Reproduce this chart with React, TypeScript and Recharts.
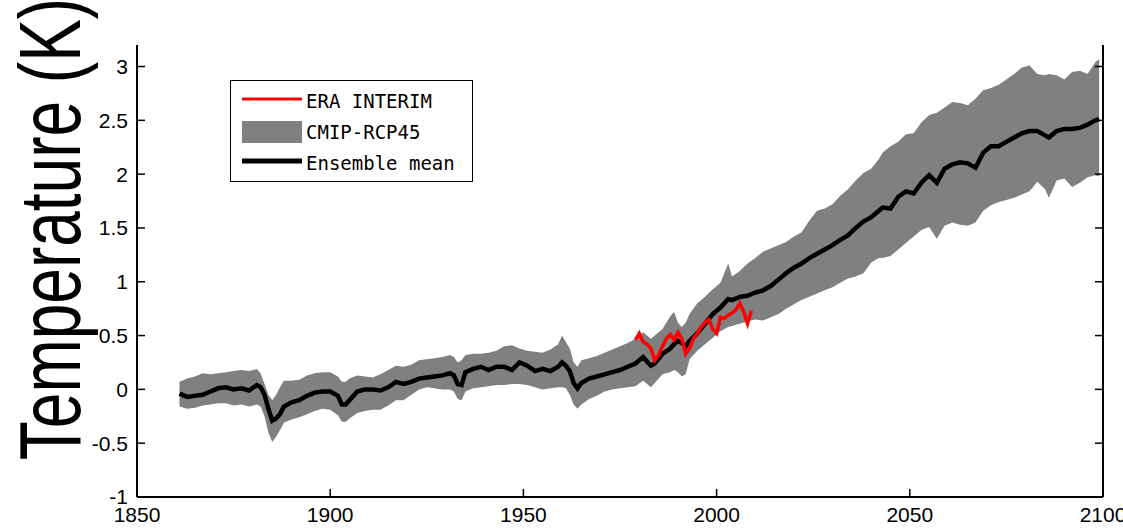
import React from 'react';
import {
  ComposedChart,
  Area,
  Line,
  XAxis,
  YAxis,
} from 'recharts';

// model years and ensemble statistics (K anomaly)
const years = [
  1861, 1863, 1865, 1867, 1869, 1871, 1873, 1875, 1877, 1879, 1881, 1882, 1883, 1884, 1885, 1886, 1887, 1888,
  1890, 1892, 1894, 1896, 1898, 1900, 1902, 1903, 1904, 1905, 1907, 1909, 1911, 1913, 1915, 1917, 1919, 1921,
  1923, 1925, 1927, 1929, 1931, 1932, 1933, 1934, 1935, 1937, 1939, 1941, 1943, 1945, 1947, 1949, 1951, 1953,
  1955, 1957, 1959, 1960, 1961, 1962, 1963, 1964, 1965, 1967, 1969, 1971, 1973, 1975, 1977, 1979, 1981, 1982,
  1983, 1984, 1986, 1988, 1989, 1990, 1991, 1992, 1993, 1995, 1997, 1999, 2001, 2003, 2004, 2006, 2008, 2010,
  2012, 2014, 2016, 2018, 2020, 2022, 2024, 2026, 2028, 2030, 2032, 2034, 2036, 2038, 2040, 2042, 2043, 2045,
  2047, 2049, 2051, 2053, 2055, 2057, 2059, 2061, 2063, 2065, 2067, 2069, 2071, 2073, 2075, 2077, 2079, 2081,
  2083, 2085, 2086, 2088, 2090, 2092, 2094, 2096, 2098, 2099,
];

const ensembleMean = [
  -0.04, -0.07, -0.06, -0.05, -0.02, 0.01, 0.02, 0.0, 0.01, -0.01, 0.04, 0.02, -0.05, -0.18, -0.29, -0.27, -0.23, -0.16,
  -0.12, -0.1, -0.06, -0.03, -0.02, -0.02, -0.06, -0.14, -0.14, -0.1, -0.02, 0.0, 0.0, -0.01, 0.02, 0.07, 0.05, 0.07,
  0.1, 0.11, 0.12, 0.13, 0.15, 0.13, 0.05, 0.04, 0.16, 0.19, 0.21, 0.18, 0.21, 0.21, 0.18, 0.25, 0.22, 0.17,
  0.19, 0.17, 0.21, 0.25, 0.22, 0.17, 0.06, 0.01, 0.06, 0.1, 0.12, 0.14, 0.16, 0.18, 0.21, 0.24, 0.3, 0.26,
  0.22, 0.24, 0.33, 0.38, 0.42, 0.45, 0.43, 0.4, 0.45, 0.52, 0.61, 0.7, 0.76, 0.84, 0.83, 0.86, 0.87, 0.9,
  0.92, 0.96, 1.02, 1.08, 1.13, 1.17, 1.22, 1.26, 1.3, 1.34, 1.39, 1.43, 1.5, 1.56, 1.6, 1.66, 1.69, 1.68,
  1.79, 1.84, 1.82, 1.92, 1.99, 1.92, 2.05, 2.09, 2.11, 2.1, 2.06, 2.2, 2.26, 2.26, 2.3, 2.34, 2.38, 2.4,
  2.4, 2.36, 2.34, 2.4, 2.42, 2.42, 2.43, 2.46, 2.5, 2.51,
];

const spreadLow = [
  -0.16, -0.18, -0.17, -0.15, -0.14, -0.13, -0.13, -0.15, -0.14, -0.16, -0.14, -0.16, -0.25, -0.4, -0.49, -0.44, -0.38, -0.31,
  -0.28, -0.26, -0.23, -0.2, -0.18, -0.19, -0.24, -0.3, -0.3, -0.27, -0.22, -0.2, -0.19, -0.19, -0.15, -0.1, -0.1, -0.05,
  0.0, 0.02, 0.01, 0.0, 0.0, -0.02, -0.09, -0.1, -0.02, 0.01, 0.02, 0.03, 0.04, 0.04, 0.05, 0.05, 0.04, 0.02,
  0.0, 0.01, 0.02, 0.02, 0.01, -0.05, -0.14, -0.18, -0.14, -0.09, -0.06, -0.02, 0.0, 0.01, 0.02, 0.03, 0.08, 0.05,
  0.02, 0.06, 0.14, 0.16, 0.18, 0.16, 0.12, 0.14, 0.28, 0.36, 0.42, 0.48, 0.54, 0.58, 0.59, 0.61, 0.63, 0.65,
  0.64, 0.67, 0.7, 0.75, 0.79, 0.83, 0.86, 0.89, 0.92, 0.95, 0.99, 1.03, 1.05, 1.08, 1.18, 1.22, 1.22, 1.24,
  1.3, 1.36, 1.42, 1.48, 1.51, 1.4, 1.52, 1.55, 1.53, 1.52, 1.55, 1.66, 1.71, 1.74, 1.76, 1.78, 1.81, 1.84,
  1.93, 1.86, 1.78, 1.94, 1.96, 1.88, 1.92, 1.97, 1.99, 1.98,
];

const spreadHigh = [
  0.07, 0.1, 0.12, 0.15, 0.14, 0.15, 0.16, 0.17, 0.18, 0.17, 0.19, 0.15, 0.05, -0.05, -0.1, -0.05, 0.02, 0.08,
  0.08, 0.09, 0.13, 0.15, 0.16, 0.16, 0.12, 0.07, 0.07, 0.1, 0.13, 0.12, 0.11, 0.14, 0.18, 0.22, 0.21, 0.23,
  0.27, 0.28, 0.29, 0.3, 0.32, 0.3, 0.25, 0.27, 0.32, 0.33, 0.33, 0.34, 0.36, 0.4, 0.41, 0.38, 0.36, 0.35,
  0.34, 0.37, 0.42, 0.5, 0.44, 0.38, 0.25, 0.21, 0.27, 0.29, 0.31, 0.34, 0.37, 0.4, 0.43, 0.47, 0.53, 0.5,
  0.47, 0.5, 0.56, 0.68, 0.72, 0.62, 0.58, 0.62, 0.7, 0.8, 0.86, 0.93, 0.99, 1.17, 1.05, 1.1, 1.17, 1.22,
  1.28, 1.31, 1.34, 1.37, 1.42, 1.46, 1.57, 1.66, 1.68, 1.72, 1.8, 1.86, 1.94, 2.01, 2.05, 2.14, 2.2, 2.26,
  2.3, 2.37, 2.38, 2.48, 2.55, 2.57, 2.62, 2.67, 2.66, 2.64, 2.7, 2.78, 2.8, 2.83, 2.88, 2.93, 2.99, 3.01,
  2.93, 2.92, 2.93, 2.92, 2.88, 2.95, 2.96, 2.93, 3.04, 3.07,
];

// reanalysis
const eraYears = [
  1979, 1980, 1981, 1982, 1983, 1984, 1985, 1986, 1987, 1988, 1989, 1990, 1991, 1992, 1993, 1994,
  1995, 1996, 1997, 1998, 1999, 2000, 2001, 2002, 2003, 2004, 2005, 2006, 2007, 2008, 2009,
];
const eraValues = [
  0.46, 0.52, 0.44, 0.42, 0.38, 0.27, 0.32, 0.4, 0.47, 0.51, 0.46, 0.53, 0.47, 0.33, 0.38, 0.47,
  0.52, 0.58, 0.62, 0.65, 0.56, 0.52, 0.67, 0.66, 0.69, 0.71, 0.74, 0.8, 0.72, 0.61, 0.73,
];

const xTicks = [1850, 1900, 1950, 2000, 2050, 2100];
const yTicks = [-1, -0.5, 0, 0.5, 1, 1.5, 2, 2.5, 3];

const ensembleData = years.map((year, i) => ({
  year,
  mean: ensembleMean[i],
  band: [spreadLow[i], spreadHigh[i]],
}));
const eraData = eraYears.map((year, i) => ({ year, era: eraValues[i] }));

const tickFont = { fill: '#000', fontSize: 21, fontFamily: '"Liberation Sans", Arial, sans-serif' };

const YLabel = () => (
  <text
    transform="translate(80, 229) rotate(-90) scale(1, 1.35)"
    textAnchor="middle"
    fontFamily='"Liberation Sans", Arial, sans-serif'
    fontSize={64}
    fill="#000"
  >
    Temperature (K)
  </text>
);

// legend drawn as a plain box over the plot, like the matlab one
const LegendBox = () => {
  const row = { display: 'flex', alignItems: 'center', height: 31 };
  const txt = { fontFamily: '"DejaVu Sans Mono", monospace', fontSize: 19, color: '#000', marginLeft: 4, lineHeight: '20px' };
  return (
    <div style={{ position: 'absolute', left: 230, top: 80, border: '1.5px solid #000', background: '#fff', width: 243, height: 102, padding: '4px 0 0 11px', boxSizing: 'border-box' }}>
      <div style={row}>
        <svg width={60} height={10}><line x1={0} x2={60} y1={3} y2={3} stroke="#ff0000" strokeWidth={3} /></svg>
        <span style={txt}>ERA INTERIM</span>
      </div>
      <div style={row}>
        <svg width={60} height={22}><rect x={0} y={0} width={60} height={22} fill="#808080" /></svg>
        <span style={txt}>CMIP-RCP45</span>
      </div>
      <div style={row}>
        <svg width={60} height={10}><line x1={0} x2={60} y1={3} y2={3} stroke="#000" strokeWidth={5} /></svg>
        <span style={txt}>Ensemble mean</span>
      </div>
    </div>
  );
};

export default function App() {
  return (
    <div style={{ position: 'absolute', left: 0, top: 0, width: 1123, height: 528, background: '#fff' }}>
      <ComposedChart width={1123} height={528} margin={{ top: 45, right: 0, left: 87, bottom: 6 }}>
        <XAxis
          dataKey="year"
          type="number"
          domain={[1850, 2100]}
          ticks={xTicks}
          allowDataOverflow
          axisLine={{ stroke: '#000', strokeWidth: 2 }}
          tickLine={{ stroke: '#000', strokeWidth: 1.5 }}
          tickSize={-8}
          tickMargin={18}
          height={25}
          tick={tickFont}
          interval={0}
        />
        <YAxis
          yAxisId="left"
          type="number"
          domain={[-1, 3.2]}
          ticks={yTicks}
          allowDataOverflow
          axisLine={{ stroke: '#000', strokeWidth: 2 }}
          tickLine={{ stroke: '#000', strokeWidth: 1.5 }}
          tickSize={-8}
          tickMargin={17}
          width={50}
          tick={tickFont}
          interval={0}
          label={<YLabel />}
        />
        <YAxis
          yAxisId="right"
          orientation="right"
          type="number"
          domain={[-1, 3.2]}
          ticks={yTicks}
          allowDataOverflow
          axisLine={{ stroke: '#000', strokeWidth: 2 }}
          tickLine={{ stroke: '#000', strokeWidth: 1.5 }}
          tickSize={-8}
          tickFormatter={() => ''}
          width={20}
          interval={0}
        />
        <Area
          yAxisId="left"
          data={ensembleData}
          dataKey="band"
          type="linear"
          fill="#808080"
          fillOpacity={1}
          stroke="none"
          isAnimationActive={false}
        />
        <Line
          yAxisId="left"
          data={ensembleData}
          dataKey="mean"
          type="linear"
          stroke="#000"
          strokeWidth={4.5}
          dot={false}
          isAnimationActive={false}
        />
        <Line
          yAxisId="left"
          data={eraData}
          dataKey="era"
          type="linear"
          stroke="#ff0000"
          strokeWidth={3.5}
          dot={false}
          isAnimationActive={false}
        />
      </ComposedChart>
      <LegendBox />
    </div>
  );
}
